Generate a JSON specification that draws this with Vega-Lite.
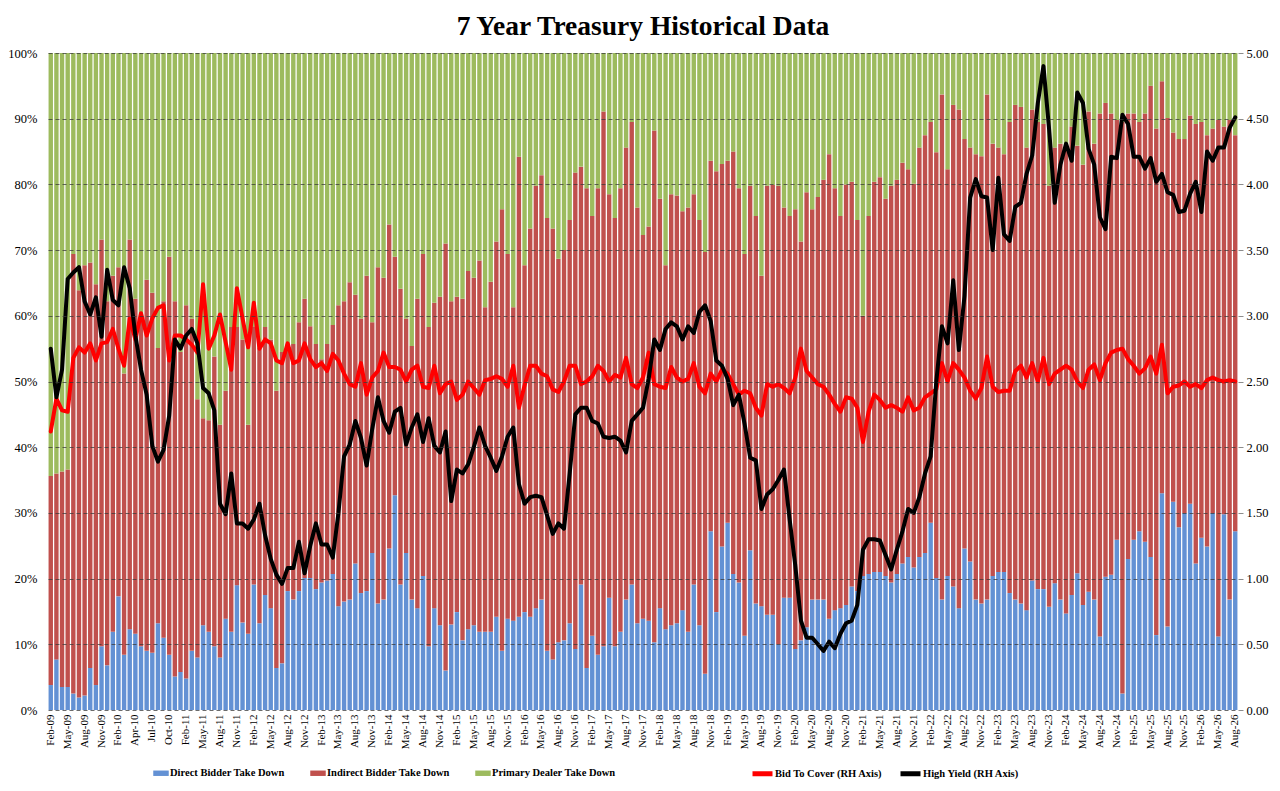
{
  "$schema": "https://vega.github.io/schema/vega-lite/v6.json",
  "width": 1190,
  "height": 657,
  "autosize": "none",
  "padding": {"left": 48, "top": 53, "right": 42, "bottom": 81},
  "background": "#ffffff",
  "title": {
    "text": "7 Year Treasury Historical Data",
    "font": "Liberation Serif",
    "fontSize": 27.5,
    "fontWeight": "bold",
    "color": "#000000",
    "anchor": "middle",
    "offset": 7
  },
  "data": {
    "values": [
      {"auction": "Feb-09", "direct": 3.8, "indirect": 31.8, "primary": 64.4, "btc": 2.12, "hy": 2.75},
      {"auction": "Mar-09", "direct": 7.7, "indirect": 28.3, "primary": 64.0, "btc": 2.37, "hy": 2.38},
      {"auction": "Apr-09", "direct": 3.5, "indirect": 32.8, "primary": 63.7, "btc": 2.28, "hy": 2.59},
      {"auction": "May-09", "direct": 3.5, "indirect": 33.1, "primary": 63.4, "btc": 2.27, "hy": 3.28},
      {"auction": "Jun-09", "direct": 2.5, "indirect": 66.9, "primary": 30.6, "btc": 2.68, "hy": 3.33},
      {"auction": "Jul-09", "direct": 1.9, "indirect": 62.0, "primary": 36.1, "btc": 2.76, "hy": 3.37},
      {"auction": "Aug-09", "direct": 2.2, "indirect": 65.5, "primary": 32.3, "btc": 2.72, "hy": 3.11},
      {"auction": "Sep-09", "direct": 6.4, "indirect": 61.7, "primary": 31.9, "btc": 2.79, "hy": 3.01},
      {"auction": "Oct-09", "direct": 3.8, "indirect": 61.0, "primary": 35.2, "btc": 2.66, "hy": 3.14},
      {"auction": "Nov-09", "direct": 9.7, "indirect": 61.9, "primary": 28.4, "btc": 2.79, "hy": 2.84},
      {"auction": "Dec-09", "direct": 6.8, "indirect": 55.4, "primary": 37.8, "btc": 2.80, "hy": 3.35},
      {"auction": "Jan-10", "direct": 11.9, "indirect": 54.2, "primary": 33.9, "btc": 2.90, "hy": 3.12},
      {"auction": "Feb-10", "direct": 17.3, "indirect": 50.1, "primary": 32.6, "btc": 2.75, "hy": 3.08},
      {"auction": "Mar-10a", "direct": 8.4, "indirect": 42.8, "primary": 48.8, "btc": 2.62, "hy": 3.37},
      {"auction": "Mar-10b", "direct": 12.3, "indirect": 59.3, "primary": 28.4, "btc": 2.98, "hy": 3.21},
      {"auction": "Apr-10", "direct": 11.6, "indirect": 51.0, "primary": 37.4, "btc": 2.82, "hy": 2.85},
      {"auction": "May-10", "direct": 9.7, "indirect": 49.9, "primary": 40.4, "btc": 3.02, "hy": 2.59},
      {"auction": "Jun-10", "direct": 9.0, "indirect": 56.5, "primary": 34.5, "btc": 2.85, "hy": 2.40},
      {"auction": "Jul-10", "direct": 8.7, "indirect": 54.8, "primary": 36.5, "btc": 2.98, "hy": 2.01},
      {"auction": "Aug-10", "direct": 13.2, "indirect": 41.9, "primary": 44.9, "btc": 3.06, "hy": 1.89},
      {"auction": "Sep-10", "direct": 11.0, "indirect": 51.2, "primary": 37.8, "btc": 3.08, "hy": 1.98},
      {"auction": "Oct-10", "direct": 8.4, "indirect": 60.6, "primary": 31.0, "btc": 2.66, "hy": 2.24},
      {"auction": "Nov-10", "direct": 5.1, "indirect": 57.1, "primary": 37.8, "btc": 2.85, "hy": 2.82},
      {"auction": "Dec-10", "direct": 5.8, "indirect": 48.7, "primary": 45.5, "btc": 2.85, "hy": 2.75},
      {"auction": "Feb-11", "direct": 4.8, "indirect": 56.8, "primary": 38.4, "btc": 2.82, "hy": 2.85},
      {"auction": "Mar-11", "direct": 9.0, "indirect": 50.6, "primary": 40.4, "btc": 2.78, "hy": 2.90},
      {"auction": "Apr-11", "direct": 8.0, "indirect": 39.3, "primary": 52.7, "btc": 2.72, "hy": 2.79},
      {"auction": "May-11", "direct": 12.9, "indirect": 31.5, "primary": 55.6, "btc": 3.24, "hy": 2.45},
      {"auction": "Jun-11", "direct": 11.9, "indirect": 32.2, "primary": 55.9, "btc": 2.75, "hy": 2.41},
      {"auction": "Jul-11", "direct": 9.7, "indirect": 44.1, "primary": 46.2, "btc": 2.85, "hy": 2.28},
      {"auction": "Aug-11", "direct": 8.0, "indirect": 35.4, "primary": 56.6, "btc": 3.01, "hy": 1.57},
      {"auction": "Sep-11", "direct": 13.9, "indirect": 34.7, "primary": 51.4, "btc": 2.80, "hy": 1.49},
      {"auction": "Oct-11", "direct": 11.9, "indirect": 46.4, "primary": 41.7, "btc": 2.59, "hy": 1.80},
      {"auction": "Nov-11", "direct": 19.0, "indirect": 39.3, "primary": 41.7, "btc": 3.21, "hy": 1.42},
      {"auction": "Dec-11", "direct": 13.3, "indirect": 43.1, "primary": 43.6, "btc": 2.98, "hy": 1.42},
      {"auction": "Jan-12", "direct": 11.6, "indirect": 31.8, "primary": 56.6, "btc": 2.76, "hy": 1.38},
      {"auction": "Feb-12", "direct": 19.1, "indirect": 39.3, "primary": 41.6, "btc": 3.10, "hy": 1.45},
      {"auction": "Mar-12", "direct": 13.2, "indirect": 41.9, "primary": 44.9, "btc": 2.75, "hy": 1.57},
      {"auction": "Apr-12", "direct": 17.5, "indirect": 40.8, "primary": 41.7, "btc": 2.82, "hy": 1.33},
      {"auction": "May-12", "direct": 15.5, "indirect": 40.9, "primary": 43.6, "btc": 2.79, "hy": 1.15},
      {"auction": "Jun-12", "direct": 6.4, "indirect": 42.2, "primary": 51.4, "btc": 2.66, "hy": 1.03},
      {"auction": "Jul-12", "direct": 7.1, "indirect": 47.4, "primary": 45.5, "btc": 2.64, "hy": 0.96},
      {"auction": "Aug-12", "direct": 18.1, "indirect": 37.6, "primary": 44.3, "btc": 2.79, "hy": 1.08},
      {"auction": "Sep-12", "direct": 16.8, "indirect": 38.9, "primary": 44.3, "btc": 2.64, "hy": 1.08},
      {"auction": "Oct-12", "direct": 18.1, "indirect": 40.9, "primary": 41.0, "btc": 2.66, "hy": 1.28},
      {"auction": "Nov-12", "direct": 20.1, "indirect": 42.5, "primary": 37.4, "btc": 2.79, "hy": 1.04},
      {"auction": "Dec-12", "direct": 20.1, "indirect": 38.3, "primary": 41.6, "btc": 2.67, "hy": 1.25},
      {"auction": "Jan-13", "direct": 18.4, "indirect": 37.3, "primary": 44.3, "btc": 2.61, "hy": 1.42},
      {"auction": "Feb-13", "direct": 19.4, "indirect": 34.0, "primary": 46.6, "btc": 2.64, "hy": 1.26},
      {"auction": "Mar-13", "direct": 19.7, "indirect": 36.0, "primary": 44.3, "btc": 2.58, "hy": 1.26},
      {"auction": "Apr-13", "direct": 20.7, "indirect": 37.9, "primary": 41.4, "btc": 2.71, "hy": 1.16},
      {"auction": "May-13", "direct": 15.8, "indirect": 45.8, "primary": 38.4, "btc": 2.66, "hy": 1.50},
      {"auction": "Jun-13", "direct": 16.5, "indirect": 45.7, "primary": 37.8, "btc": 2.56, "hy": 1.93},
      {"auction": "Jul-13", "direct": 16.8, "indirect": 48.3, "primary": 34.9, "btc": 2.48, "hy": 2.02},
      {"auction": "Aug-13", "direct": 22.3, "indirect": 40.9, "primary": 36.8, "btc": 2.46, "hy": 2.20},
      {"auction": "Sep-13", "direct": 17.8, "indirect": 41.8, "primary": 40.4, "btc": 2.64, "hy": 2.07},
      {"auction": "Oct-13", "direct": 18.1, "indirect": 48.0, "primary": 33.9, "btc": 2.40, "hy": 1.86},
      {"auction": "Nov-13", "direct": 23.9, "indirect": 35.1, "primary": 41.0, "btc": 2.53, "hy": 2.14},
      {"auction": "Dec-13", "direct": 16.2, "indirect": 51.2, "primary": 32.6, "btc": 2.58, "hy": 2.38},
      {"auction": "Jan-14", "direct": 16.8, "indirect": 49.0, "primary": 34.2, "btc": 2.72, "hy": 2.20},
      {"auction": "Feb-14", "direct": 24.6, "indirect": 49.3, "primary": 26.1, "btc": 2.61, "hy": 2.11},
      {"auction": "Mar-14", "direct": 32.7, "indirect": 36.3, "primary": 31.0, "btc": 2.61, "hy": 2.27},
      {"auction": "Apr-14", "direct": 19.1, "indirect": 45.0, "primary": 35.9, "btc": 2.59, "hy": 2.30},
      {"auction": "May-14", "direct": 23.9, "indirect": 35.7, "primary": 40.4, "btc": 2.50, "hy": 2.02},
      {"auction": "Jun-14", "direct": 16.8, "indirect": 38.6, "primary": 44.6, "btc": 2.59, "hy": 2.15},
      {"auction": "Jul-14", "direct": 15.5, "indirect": 47.1, "primary": 37.4, "btc": 2.62, "hy": 2.25},
      {"auction": "Aug-14", "direct": 20.4, "indirect": 49.0, "primary": 30.6, "btc": 2.46, "hy": 2.04},
      {"auction": "Sep-14", "direct": 9.7, "indirect": 48.6, "primary": 41.7, "btc": 2.45, "hy": 2.22},
      {"auction": "Oct-14", "direct": 15.5, "indirect": 46.5, "primary": 38.0, "btc": 2.62, "hy": 2.01},
      {"auction": "Nov-14", "direct": 12.9, "indirect": 50.0, "primary": 37.1, "btc": 2.41, "hy": 1.96},
      {"auction": "Dec-14", "direct": 6.0, "indirect": 65.0, "primary": 29.0, "btc": 2.48, "hy": 2.12},
      {"auction": "Jan-15", "direct": 13.0, "indirect": 49.2, "primary": 37.8, "btc": 2.50, "hy": 1.59},
      {"auction": "Feb-15", "direct": 14.9, "indirect": 48.0, "primary": 37.1, "btc": 2.36, "hy": 1.83},
      {"auction": "Mar-15", "direct": 10.6, "indirect": 52.0, "primary": 37.4, "btc": 2.40, "hy": 1.80},
      {"auction": "Apr-15", "direct": 12.3, "indirect": 54.5, "primary": 33.2, "btc": 2.50, "hy": 1.87},
      {"auction": "May-15", "direct": 12.9, "indirect": 52.9, "primary": 34.2, "btc": 2.45, "hy": 2.00},
      {"auction": "Jun-15", "direct": 11.9, "indirect": 56.5, "primary": 31.6, "btc": 2.40, "hy": 2.15},
      {"auction": "Jul-15", "direct": 11.9, "indirect": 49.4, "primary": 38.7, "btc": 2.51, "hy": 2.01},
      {"auction": "Aug-15", "direct": 11.9, "indirect": 53.3, "primary": 34.8, "btc": 2.52, "hy": 1.92},
      {"auction": "Sep-15", "direct": 14.2, "indirect": 57.1, "primary": 28.7, "btc": 2.54, "hy": 1.82},
      {"auction": "Oct-15", "direct": 9.0, "indirect": 67.2, "primary": 23.8, "btc": 2.52, "hy": 1.93},
      {"auction": "Nov-15", "direct": 13.9, "indirect": 55.5, "primary": 30.6, "btc": 2.46, "hy": 2.08},
      {"auction": "Dec-15", "direct": 13.6, "indirect": 47.7, "primary": 38.7, "btc": 2.62, "hy": 2.15},
      {"auction": "Jan-16", "direct": 14.2, "indirect": 70.0, "primary": 15.8, "btc": 2.30, "hy": 1.72},
      {"auction": "Feb-16", "direct": 14.9, "indirect": 52.8, "primary": 32.3, "btc": 2.47, "hy": 1.57},
      {"auction": "Mar-16", "direct": 14.2, "indirect": 59.1, "primary": 26.7, "btc": 2.62, "hy": 1.62},
      {"auction": "Apr-16", "direct": 15.5, "indirect": 64.3, "primary": 20.2, "btc": 2.62, "hy": 1.63},
      {"auction": "May-16", "direct": 16.8, "indirect": 64.6, "primary": 18.6, "btc": 2.56, "hy": 1.62},
      {"auction": "Jun-16", "direct": 9.0, "indirect": 65.9, "primary": 25.1, "btc": 2.54, "hy": 1.48},
      {"auction": "Jul-16", "direct": 7.7, "indirect": 65.6, "primary": 26.7, "btc": 2.44, "hy": 1.34},
      {"auction": "Aug-16", "direct": 10.3, "indirect": 58.4, "primary": 31.3, "btc": 2.42, "hy": 1.42},
      {"auction": "Sep-16", "direct": 10.6, "indirect": 59.4, "primary": 30.0, "btc": 2.50, "hy": 1.38},
      {"auction": "Oct-16", "direct": 13.2, "indirect": 61.4, "primary": 25.4, "btc": 2.62, "hy": 1.80},
      {"auction": "Nov-16", "direct": 9.3, "indirect": 72.5, "primary": 18.2, "btc": 2.62, "hy": 2.25},
      {"auction": "Dec-16", "direct": 19.1, "indirect": 63.6, "primary": 17.3, "btc": 2.48, "hy": 2.30},
      {"auction": "Jan-17", "direct": 6.4, "indirect": 73.0, "primary": 20.6, "btc": 2.50, "hy": 2.30},
      {"auction": "Feb-17", "direct": 11.3, "indirect": 63.9, "primary": 24.8, "btc": 2.54, "hy": 2.20},
      {"auction": "Mar-17", "direct": 8.4, "indirect": 71.0, "primary": 20.6, "btc": 2.62, "hy": 2.18},
      {"auction": "Apr-17", "direct": 9.7, "indirect": 81.4, "primary": 8.9, "btc": 2.58, "hy": 2.08},
      {"auction": "May-17", "direct": 17.1, "indirect": 61.4, "primary": 21.5, "btc": 2.50, "hy": 2.07},
      {"auction": "Jun-17", "direct": 9.7, "indirect": 65.2, "primary": 25.1, "btc": 2.55, "hy": 2.08},
      {"auction": "Jul-17", "direct": 11.9, "indirect": 67.5, "primary": 20.6, "btc": 2.53, "hy": 2.05},
      {"auction": "Aug-17", "direct": 16.8, "indirect": 68.8, "primary": 14.4, "btc": 2.68, "hy": 1.96},
      {"auction": "Sep-17", "direct": 19.1, "indirect": 70.4, "primary": 10.5, "btc": 2.48, "hy": 2.20},
      {"auction": "Oct-17", "direct": 13.2, "indirect": 63.3, "primary": 23.5, "btc": 2.45, "hy": 2.25},
      {"auction": "Nov-17", "direct": 13.9, "indirect": 58.4, "primary": 27.7, "btc": 2.53, "hy": 2.30},
      {"auction": "Dec-17", "direct": 13.6, "indirect": 60.0, "primary": 26.4, "btc": 2.72, "hy": 2.52},
      {"auction": "Jan-18", "direct": 10.3, "indirect": 77.9, "primary": 11.8, "btc": 2.48, "hy": 2.82},
      {"auction": "Feb-18", "direct": 15.5, "indirect": 62.3, "primary": 22.2, "btc": 2.46, "hy": 2.74},
      {"auction": "Mar-18", "direct": 12.3, "indirect": 55.4, "primary": 32.3, "btc": 2.45, "hy": 2.90},
      {"auction": "Apr-18", "direct": 12.9, "indirect": 65.6, "primary": 21.5, "btc": 2.61, "hy": 2.95},
      {"auction": "May-18", "direct": 13.2, "indirect": 65.1, "primary": 21.7, "btc": 2.53, "hy": 2.92},
      {"auction": "Jun-18", "direct": 15.2, "indirect": 60.7, "primary": 24.1, "btc": 2.50, "hy": 2.82},
      {"auction": "Jul-18", "direct": 11.9, "indirect": 64.6, "primary": 23.5, "btc": 2.52, "hy": 2.92},
      {"auction": "Aug-18", "direct": 19.1, "indirect": 59.4, "primary": 21.5, "btc": 2.64, "hy": 2.87},
      {"auction": "Sep-18", "direct": 12.9, "indirect": 61.7, "primary": 25.4, "btc": 2.46, "hy": 3.03},
      {"auction": "Oct-18", "direct": 5.5, "indirect": 64.2, "primary": 30.3, "btc": 2.41, "hy": 3.08},
      {"auction": "Nov-18", "direct": 27.2, "indirect": 56.4, "primary": 16.4, "btc": 2.56, "hy": 2.96},
      {"auction": "Dec-18", "direct": 14.9, "indirect": 67.1, "primary": 18.0, "btc": 2.50, "hy": 2.66},
      {"auction": "Jan-19", "direct": 24.9, "indirect": 58.2, "primary": 16.9, "btc": 2.59, "hy": 2.62},
      {"auction": "Feb-19", "direct": 28.5, "indirect": 55.1, "primary": 16.4, "btc": 2.56, "hy": 2.52},
      {"auction": "Mar-19", "direct": 20.7, "indirect": 64.3, "primary": 15.0, "btc": 2.48, "hy": 2.32},
      {"auction": "Apr-19", "direct": 19.4, "indirect": 60.0, "primary": 20.6, "btc": 2.40, "hy": 2.40},
      {"auction": "May-19", "direct": 11.3, "indirect": 58.1, "primary": 30.6, "btc": 2.43, "hy": 2.18},
      {"auction": "Jun-19", "direct": 24.3, "indirect": 55.5, "primary": 20.2, "btc": 2.41, "hy": 1.92},
      {"auction": "Jul-19", "direct": 16.2, "indirect": 59.0, "primary": 24.8, "btc": 2.30, "hy": 1.90},
      {"auction": "Aug-19", "direct": 15.8, "indirect": 50.3, "primary": 33.9, "btc": 2.24, "hy": 1.53},
      {"auction": "Sep-19", "direct": 14.5, "indirect": 65.3, "primary": 20.2, "btc": 2.48, "hy": 1.64},
      {"auction": "Oct-19", "direct": 14.5, "indirect": 65.4, "primary": 20.1, "btc": 2.46, "hy": 1.68},
      {"auction": "Nov-19", "direct": 10.0, "indirect": 69.8, "primary": 20.2, "btc": 2.48, "hy": 1.75},
      {"auction": "Dec-19", "direct": 17.1, "indirect": 59.4, "primary": 23.5, "btc": 2.45, "hy": 1.83},
      {"auction": "Jan-20", "direct": 17.1, "indirect": 58.1, "primary": 24.8, "btc": 2.41, "hy": 1.45},
      {"auction": "Feb-20", "direct": 9.3, "indirect": 66.9, "primary": 23.8, "btc": 2.53, "hy": 1.10},
      {"auction": "Mar-20", "direct": 10.6, "indirect": 60.7, "primary": 28.7, "btc": 2.75, "hy": 0.68},
      {"auction": "Apr-20", "direct": 12.6, "indirect": 66.2, "primary": 21.2, "btc": 2.58, "hy": 0.55},
      {"auction": "May-20", "direct": 16.8, "indirect": 59.4, "primary": 23.8, "btc": 2.53, "hy": 0.55},
      {"auction": "Jun-20", "direct": 16.8, "indirect": 61.3, "primary": 21.9, "btc": 2.48, "hy": 0.50},
      {"auction": "Jul-20", "direct": 16.8, "indirect": 63.9, "primary": 19.3, "btc": 2.46, "hy": 0.45},
      {"auction": "Aug-20", "direct": 13.9, "indirect": 70.7, "primary": 15.4, "btc": 2.40, "hy": 0.52},
      {"auction": "Sep-20", "direct": 15.2, "indirect": 64.2, "primary": 20.6, "btc": 2.33, "hy": 0.47},
      {"auction": "Oct-20", "direct": 15.5, "indirect": 59.7, "primary": 24.8, "btc": 2.27, "hy": 0.58},
      {"auction": "Nov-20", "direct": 16.0, "indirect": 64.0, "primary": 20.0, "btc": 2.38, "hy": 0.66},
      {"auction": "Dec-20", "direct": 18.8, "indirect": 61.6, "primary": 19.6, "btc": 2.37, "hy": 0.68},
      {"auction": "Jan-21", "direct": 18.1, "indirect": 56.5, "primary": 25.4, "btc": 2.30, "hy": 0.80},
      {"auction": "Feb-21", "direct": 20.4, "indirect": 39.6, "primary": 40.0, "btc": 2.04, "hy": 1.22},
      {"auction": "Mar-21", "direct": 20.7, "indirect": 54.5, "primary": 24.8, "btc": 2.27, "hy": 1.30},
      {"auction": "Apr-21", "direct": 21.0, "indirect": 59.4, "primary": 19.6, "btc": 2.40, "hy": 1.30},
      {"auction": "May-21", "direct": 21.0, "indirect": 60.1, "primary": 18.9, "btc": 2.36, "hy": 1.29},
      {"auction": "Jun-21", "direct": 20.4, "indirect": 57.4, "primary": 22.2, "btc": 2.30, "hy": 1.18},
      {"auction": "Jul-21", "direct": 19.4, "indirect": 60.4, "primary": 20.2, "btc": 2.32, "hy": 1.07},
      {"auction": "Aug-21", "direct": 20.7, "indirect": 60.0, "primary": 19.3, "btc": 2.30, "hy": 1.22},
      {"auction": "Sep-21", "direct": 22.3, "indirect": 61.0, "primary": 16.7, "btc": 2.27, "hy": 1.36},
      {"auction": "Oct-21", "direct": 23.3, "indirect": 59.0, "primary": 17.7, "btc": 2.38, "hy": 1.53},
      {"auction": "Nov-21", "direct": 21.7, "indirect": 58.4, "primary": 19.9, "btc": 2.28, "hy": 1.50},
      {"auction": "Dec-21", "direct": 23.3, "indirect": 62.3, "primary": 14.4, "btc": 2.30, "hy": 1.62},
      {"auction": "Jan-22", "direct": 23.9, "indirect": 63.6, "primary": 12.5, "btc": 2.38, "hy": 1.80},
      {"auction": "Feb-22", "direct": 28.5, "indirect": 61.0, "primary": 10.5, "btc": 2.41, "hy": 1.93},
      {"auction": "Mar-22", "direct": 20.1, "indirect": 64.8, "primary": 15.1, "btc": 2.44, "hy": 2.50},
      {"auction": "Apr-22", "direct": 16.8, "indirect": 76.9, "primary": 6.3, "btc": 2.64, "hy": 2.92},
      {"auction": "May-22", "direct": 20.4, "indirect": 61.9, "primary": 17.7, "btc": 2.50, "hy": 2.79},
      {"auction": "Jun-22", "direct": 18.8, "indirect": 73.3, "primary": 7.9, "btc": 2.64, "hy": 3.27},
      {"auction": "Jul-22", "direct": 15.5, "indirect": 75.9, "primary": 8.6, "btc": 2.59, "hy": 2.74},
      {"auction": "Aug-22", "direct": 24.6, "indirect": 62.3, "primary": 13.1, "btc": 2.53, "hy": 3.15},
      {"auction": "Sep-22", "direct": 22.6, "indirect": 63.0, "primary": 14.4, "btc": 2.43, "hy": 3.90},
      {"auction": "Oct-22", "direct": 16.8, "indirect": 67.8, "primary": 15.4, "btc": 2.37, "hy": 4.04},
      {"auction": "Nov-22", "direct": 16.2, "indirect": 68.1, "primary": 15.7, "btc": 2.45, "hy": 3.91},
      {"auction": "Dec-22", "direct": 16.8, "indirect": 76.9, "primary": 6.3, "btc": 2.69, "hy": 3.90},
      {"auction": "Jan-23", "direct": 20.4, "indirect": 65.8, "primary": 13.8, "btc": 2.46, "hy": 3.50},
      {"auction": "Feb-23", "direct": 21.0, "indirect": 64.6, "primary": 14.4, "btc": 2.42, "hy": 4.05},
      {"auction": "Mar-23", "direct": 21.0, "indirect": 63.6, "primary": 15.4, "btc": 2.43, "hy": 3.62},
      {"auction": "Apr-23", "direct": 17.8, "indirect": 71.7, "primary": 10.5, "btc": 2.43, "hy": 3.57},
      {"auction": "May-23", "direct": 16.8, "indirect": 75.3, "primary": 7.9, "btc": 2.58, "hy": 3.83},
      {"auction": "Jun-23", "direct": 16.2, "indirect": 75.6, "primary": 8.2, "btc": 2.62, "hy": 3.86},
      {"auction": "Jul-23", "direct": 15.2, "indirect": 70.4, "primary": 14.4, "btc": 2.53, "hy": 4.08},
      {"auction": "Aug-23", "direct": 19.7, "indirect": 71.7, "primary": 8.6, "btc": 2.64, "hy": 4.22},
      {"auction": "Sep-23", "direct": 18.4, "indirect": 71.1, "primary": 10.5, "btc": 2.50, "hy": 4.62},
      {"auction": "Oct-23", "direct": 18.4, "indirect": 70.8, "primary": 10.8, "btc": 2.68, "hy": 4.90},
      {"auction": "Nov-23", "direct": 15.7, "indirect": 64.1, "primary": 20.2, "btc": 2.48, "hy": 4.42},
      {"auction": "Dec-23", "direct": 19.3, "indirect": 66.3, "primary": 14.4, "btc": 2.56, "hy": 3.86},
      {"auction": "Jan-24", "direct": 16.8, "indirect": 69.4, "primary": 13.8, "btc": 2.59, "hy": 4.15},
      {"auction": "Feb-24", "direct": 14.7, "indirect": 70.9, "primary": 14.4, "btc": 2.62, "hy": 4.31},
      {"auction": "Mar-24", "direct": 17.5, "indirect": 71.3, "primary": 11.2, "btc": 2.59, "hy": 4.18},
      {"auction": "Apr-24", "direct": 20.8, "indirect": 65.1, "primary": 14.1, "btc": 2.50, "hy": 4.70},
      {"auction": "May-24", "direct": 16.0, "indirect": 67.0, "primary": 17.0, "btc": 2.45, "hy": 4.62},
      {"auction": "Jun-24", "direct": 18.0, "indirect": 73.1, "primary": 8.9, "btc": 2.59, "hy": 4.27},
      {"auction": "Jul-24", "direct": 16.8, "indirect": 69.4, "primary": 13.8, "btc": 2.63, "hy": 4.15},
      {"auction": "Aug-24", "direct": 11.2, "indirect": 79.6, "primary": 9.2, "btc": 2.51, "hy": 3.75},
      {"auction": "Sep-24", "direct": 20.3, "indirect": 72.1, "primary": 7.6, "btc": 2.64, "hy": 3.66},
      {"auction": "Oct-24", "direct": 20.6, "indirect": 70.2, "primary": 9.2, "btc": 2.72, "hy": 4.21},
      {"auction": "Nov-24", "direct": 25.9, "indirect": 63.9, "primary": 10.2, "btc": 2.74, "hy": 4.20},
      {"auction": "Dec-24", "direct": 2.5, "indirect": 87.0, "primary": 10.5, "btc": 2.75, "hy": 4.53},
      {"auction": "Jan-25", "direct": 23.0, "indirect": 67.8, "primary": 9.2, "btc": 2.67, "hy": 4.46},
      {"auction": "Feb-25", "direct": 25.9, "indirect": 64.9, "primary": 9.2, "btc": 2.62, "hy": 4.21},
      {"auction": "Mar-25", "direct": 27.2, "indirect": 62.3, "primary": 10.5, "btc": 2.56, "hy": 4.21},
      {"auction": "Apr-25", "direct": 25.6, "indirect": 65.2, "primary": 9.2, "btc": 2.60, "hy": 4.12},
      {"auction": "May-25", "direct": 23.3, "indirect": 71.7, "primary": 5.0, "btc": 2.69, "hy": 4.20},
      {"auction": "Jun-25", "direct": 11.4, "indirect": 77.1, "primary": 11.5, "btc": 2.56, "hy": 4.02},
      {"auction": "Jul-25", "direct": 33.0, "indirect": 62.7, "primary": 4.3, "btc": 2.78, "hy": 4.08},
      {"auction": "Aug-25", "direct": 12.7, "indirect": 77.4, "primary": 9.9, "btc": 2.41, "hy": 3.94},
      {"auction": "Sep-25", "direct": 31.7, "indirect": 56.2, "primary": 12.1, "btc": 2.46, "hy": 3.92},
      {"auction": "Oct-25", "direct": 27.8, "indirect": 59.1, "primary": 13.1, "btc": 2.47, "hy": 3.79},
      {"auction": "Nov-25", "direct": 30.0, "indirect": 56.9, "primary": 13.1, "btc": 2.50, "hy": 3.80},
      {"auction": "Dec-25", "direct": 31.4, "indirect": 59.1, "primary": 9.5, "btc": 2.46, "hy": 3.93},
      {"auction": "Jan-26", "direct": 22.3, "indirect": 66.9, "primary": 10.8, "btc": 2.48, "hy": 4.02},
      {"auction": "Feb-26", "direct": 26.2, "indirect": 63.3, "primary": 10.5, "btc": 2.45, "hy": 3.79},
      {"auction": "Mar-26", "direct": 24.9, "indirect": 62.6, "primary": 12.5, "btc": 2.51, "hy": 4.25},
      {"auction": "Apr-26", "direct": 30.0, "indirect": 58.5, "primary": 11.5, "btc": 2.53, "hy": 4.18},
      {"auction": "May-26", "direct": 11.2, "indirect": 78.6, "primary": 10.2, "btc": 2.51, "hy": 4.28},
      {"auction": "Jun-26", "direct": 29.8, "indirect": 59.0, "primary": 11.2, "btc": 2.50, "hy": 4.28},
      {"auction": "Jul-26", "direct": 16.8, "indirect": 73.0, "primary": 10.2, "btc": 2.51, "hy": 4.43},
      {"auction": "Aug-26", "direct": 27.2, "indirect": 60.3, "primary": 12.5, "btc": 2.50, "hy": 4.51}
    ]
  },
  "encoding": {
    "x": {
      "field": "auction",
      "type": "ordinal",
      "sort": null,
      "scale": {"paddingInner": 0.22, "paddingOuter": 0.1},
      "axis": {
        "title": null,
        "values": ["Feb-09", "May-09", "Aug-09", "Nov-09", "Feb-10", "Apr-10", "Jul-10", "Oct-10", "Feb-11", "May-11", "Aug-11", "Nov-11", "Feb-12", "May-12", "Aug-12", "Nov-12", "Feb-13", "May-13", "Aug-13", "Nov-13", "Feb-14", "May-14", "Aug-14", "Nov-14", "Feb-15", "May-15", "Aug-15", "Nov-15", "Feb-16", "May-16", "Aug-16", "Nov-16", "Feb-17", "May-17", "Aug-17", "Nov-17", "Feb-18", "May-18", "Aug-18", "Nov-18", "Feb-19", "May-19", "Aug-19", "Nov-19", "Feb-20", "May-20", "Aug-20", "Nov-20", "Feb-21", "May-21", "Aug-21", "Nov-21", "Feb-22", "May-22", "Aug-22", "Nov-22", "Feb-23", "May-23", "Aug-23", "Nov-23", "Feb-24", "May-24", "Aug-24", "Nov-24", "Feb-25", "May-25", "Aug-25", "Nov-25", "Feb-26", "May-26", "Aug-26"],
        "labelAngle": -90,
        "labelFont": "Liberation Serif",
        "labelFontSize": 11,
        "labelColor": "#000000",
        "labelPadding": 4,
        "domain": false,
        "ticks": false,
        "labelOverlap": false
      }
    }
  },
  "layer": [
    {
      "transform": [{"fold": ["direct", "indirect", "primary"], "as": ["series", "pct"]}],
      "mark": {"type": "bar"},
      "encoding": {
        "y": {
          "field": "pct",
          "type": "quantitative",
          "stack": "zero",
          "scale": {"domain": [0, 100], "nice": false},
          "axis": {
            "title": null,
            "values": [0, 10, 20, 30, 40, 50, 60, 70, 80, 90, 100],
            "labelExpr": "datum.value + '%'",
            "labelFont": "Liberation Serif",
            "labelFontSize": 12.5,
            "labelColor": "#000000",
            "labelPadding": 11,
            "domain": false,
            "ticks": false,
            "grid": true,
            "gridColor": "#3a3a3a",
            "gridDash": [4, 3],
            "gridWidth": 1,
            "gridOpacity": 0.75,
            "zindex": 1
          }
        },
        "color": {
          "field": "series",
          "type": "nominal",
          "scale": {"domain": ["direct", "indirect", "primary"], "range": ["#6391D4", "#C0504D", "#9DBB5E"]},
          "legend": {
            "orient": "none",
            "legendX": 105,
            "legendY": 712,
            "direction": "horizontal",
            "title": null,
            "padding": 0,
            "symbolType": "M-1,-0.35H1V0.35H-1Z",
            "symbolSize": 240,
            "symbolStrokeWidth": 0,
            "labelFont": "Liberation Serif",
            "labelFontWeight": "bold",
            "labelFontSize": 10.5,
            "labelColor": "#000000",
            "labelOffset": 1,
            "columnPadding": 25,
            "labelExpr": "datum.label == 'direct' ? 'Direct Bidder Take Down' : datum.label == 'indirect' ? 'Indirect Bidder Take Down' : 'Primary Dealer Take Down'"
          }
        },
        "order": {"field": "series", "sort": "ascending"}
      }
    },
    {
      "transform": [{"fold": ["btc", "hy"], "as": ["line", "val"]}],
      "mark": {"type": "line", "strokeWidth": 4, "strokeJoin": "round", "strokeCap": "round"},
      "encoding": {
        "y": {
          "field": "val",
          "type": "quantitative",
          "scale": {"domain": [0, 5], "nice": false},
          "axis": {
            "orient": "right",
            "title": null,
            "values": [0, 0.5, 1, 1.5, 2, 2.5, 3, 3.5, 4, 4.5, 5],
            "format": ".2f",
            "labelFont": "Liberation Serif",
            "labelFontSize": 12.5,
            "labelColor": "#000000",
            "labelPadding": 3,
            "domain": false,
            "ticks": true,
            "tickSize": 5,
            "tickColor": "#8c8c8c",
            "grid": false
          }
        },
        "stroke": {
          "field": "line",
          "type": "nominal",
          "scale": {"domain": ["btc", "hy"], "range": ["#FF0000", "#000000"]},
          "legend": {
            "orient": "none",
            "legendX": 702,
            "legendY": 708,
            "direction": "horizontal",
            "title": null,
            "padding": 0,
            "symbolType": "stroke",
            "symbolSize": 400,
            "symbolStrokeWidth": 5,
            "labelFont": "Liberation Serif",
            "labelFontWeight": "bold",
            "labelFontSize": 10.5,
            "labelColor": "#000000",
            "labelOffset": 0,
            "columnPadding": 7,
            "labelExpr": "datum.label == 'btc' ? 'Bid To Cover (RH Axis)' : 'High Yield (RH Axis)'"
          }
        }
      }
    }
  ],
  "resolve": {"scale": {"y": "independent"}},
  "config": {
    "view": {"stroke": null}
  }
}
